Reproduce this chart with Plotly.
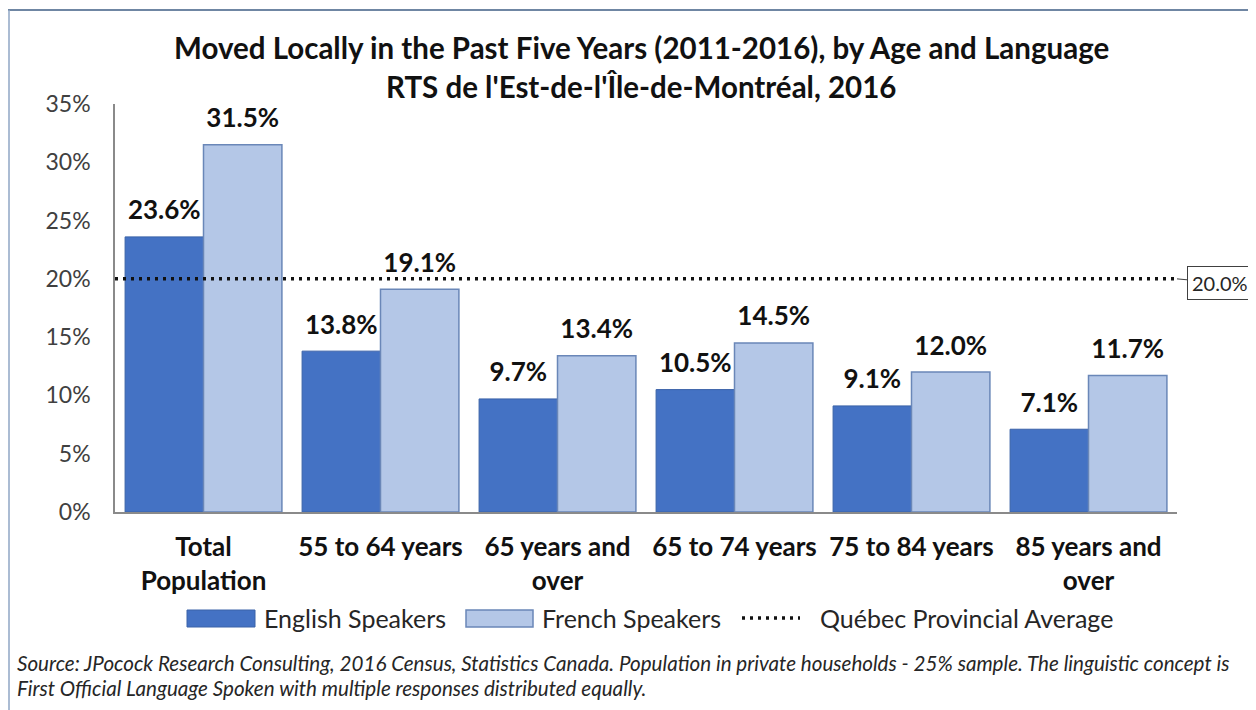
import plotly.graph_objects as go

# ---- data ----
categories = ["Total<br>Population", "55 to 64 years", "65 years and<br>over",
              "65 to 74 years", "75 to 84 years", "85 years and<br>over"]
english = [23.6, 13.8, 9.7, 10.5, 9.1, 7.1]
french = [31.5, 19.1, 13.4, 14.5, 12.0, 11.7]
provincial_avg = 20.0
y_ticks = [0, 5, 10, 15, 20, 25, 30, 35]

title1 = "Moved Locally in the Past Five Years (2011-2016), by Age and Language"
title2 = "RTS de l'Est-de-l'Île-de-Montréal, 2016"
source1 = ("Source: JPocock Research Consulting, 2016 Census, Statistics Canada. Population in private "
           "households - 25% sample. The linguistic concept is")
source2 = "First Official Language Spoken with multiple responses distributed equally."

# ---- geometry (page pixel targets; figure sits 8px inside the page) ----
OFF = 8
W, H = 1256, 710
L, R, T, B = 115 - OFF, 1264 - 1177, 104 - OFF, 718 - 512
PW, PH = W - L - R, H - T - B


def px(x):
    return (x - OFF - L) / PW


def py(y):
    return (H - B - (y - OFF)) / PH


FONT = "Lato"
C_EN = "#4472C4"
C_FR = "#B4C7E7"
bw = 0.443
idx = list(range(len(categories)))
x_en = [i - bw / 2 for i in idx]
x_fr = [i + bw / 2 for i in idx]

fig = go.Figure()
fig.add_trace(go.Bar(x=x_en, y=english, width=bw, name="English Speakers",
                     marker=dict(color=C_EN, line=dict(color="#3A62A8", width=1)),
                     showlegend=False, hoverinfo="y"))
fig.add_trace(go.Bar(x=x_fr, y=french, width=bw, name="French Speakers",
                     marker=dict(color=C_FR, line=dict(color="#6A87B8", width=1.5)),
                     showlegend=False, hoverinfo="y"))
# value labels
for xs, vals in ((x_en, english), (x_fr, french)):
    fig.add_trace(go.Scatter(x=xs, y=vals, mode="markers+text",
                             text=[f"{v:.1f}%" for v in vals], textposition="top center",
                             marker=dict(size=16, opacity=0),
                             textfont=dict(family=FONT, size=26, color="#111111", weight="bold"),
                             showlegend=False, hoverinfo="skip", cliponaxis=False))
# provincial average line
fig.add_trace(go.Scatter(x=[-0.5, 5.5], y=[provincial_avg, provincial_avg], mode="lines",
                         line=dict(color="#111111", width=3.5, dash="3px,5px"),
                         name="Québec Provincial Average", showlegend=False, hoverinfo="y"))

fig.update_layout(
    width=W, height=H,
    margin=dict(l=L, r=R, t=T, b=B, autoexpand=False),
    paper_bgcolor="white", plot_bgcolor="white",
    barmode="overlay",
    font=dict(family=FONT, color="#262626"),
    xaxis=dict(range=[-0.5, 5.5], tickmode="array", tickvals=idx, ticktext=categories,
               showline=True, linecolor="#8a8a8a", linewidth=1.5, showgrid=False, zeroline=False,
               ticks="", ticklabelstandoff=11,
               tickfont=dict(family=FONT, size=26, color="#111111", weight="bold")),
    yaxis=dict(range=[0, 35], tickmode="array", tickvals=y_ticks,
               ticktext=[f"{v}%" for v in y_ticks],
               showline=True, linecolor="#8a8a8a", linewidth=1.5, showgrid=False, zeroline=False,
               ticks="", ticklabelstandoff=18,
               tickfont=dict(family=FONT, size=23, color="#404040")),
)

ann = []
ann.append(dict(xref="paper", yref="paper", x=px(641), y=py(47), yanchor="middle", text=f"<b>{title1}</b>",
                showarrow=False, font=dict(family=FONT, size=29.5, color="#111111")))
ann.append(dict(xref="paper", yref="paper", x=px(641), y=py(87), yanchor="middle", text=f"<b>{title2}</b>",
                showarrow=False, font=dict(family=FONT, size=29.5, color="#111111")))
# callout
ann.append(dict(x=5.5, y=provincial_avg, xref="x", yref="y", text="20.0%", showarrow=True,
                arrowhead=0, arrowwidth=1, arrowcolor="#404040", ax=43, ay=4,
                bordercolor="#404040", borderwidth=1, borderpad=4, bgcolor="white",
                font=dict(family=FONT, size=20, color="#262626")))
# legend
leg_y = py(618)
for xpos, label in ((262, "English Speakers"), (540, "French Speakers"), (818, "Québec Provincial Average")):
    ann.append(dict(xref="paper", yref="paper", x=px(xpos), y=leg_y, xanchor="left", yanchor="middle",
                    text=label, showarrow=False, font=dict(family=FONT, size=25, color="#262626")))
# source
ann.append(dict(xref="paper", yref="paper", x=px(15), y=py(663), xanchor="left", yanchor="middle", text=source1,
                showarrow=False, font=dict(family=FONT, size=20.6, color="#262626", style="italic")))
ann.append(dict(xref="paper", yref="paper", x=px(15), y=py(688), xanchor="left", yanchor="middle", text=source2,
                showarrow=False, font=dict(family=FONT, size=20.6, color="#262626", style="italic")))
fig.update_layout(annotations=ann)

shapes = []
# frame
shapes.append(dict(type="line", xref="paper", yref="paper", x0=px(8), x1=px(1270), y0=py(10), y1=py(10),
                   line=dict(color="#6F86A3", width=2)))
shapes.append(dict(type="line", xref="paper", yref="paper", x0=px(9), x1=px(9), y0=py(10), y1=py(720),
                   line=dict(color="#8FA6C4", width=1.5)))
# legend swatches
shapes.append(dict(type="rect", xref="paper", yref="paper", x0=px(187), x1=px(255), y0=py(627), y1=py(610),
                   fillcolor=C_EN, line=dict(color="#3A62A8", width=1)))
shapes.append(dict(type="rect", xref="paper", yref="paper", x0=px(466), x1=px(533), y0=py(627), y1=py(610),
                   fillcolor=C_FR, line=dict(color="#6A87B8", width=1.5)))
shapes.append(dict(type="line", xref="paper", yref="paper", x0=px(742), x1=px(800), y0=leg_y, y1=leg_y,
                   line=dict(color="#111111", width=3.5, dash="3px,5px")))
fig.update_layout(shapes=shapes)

fig.write_html("out.html")
